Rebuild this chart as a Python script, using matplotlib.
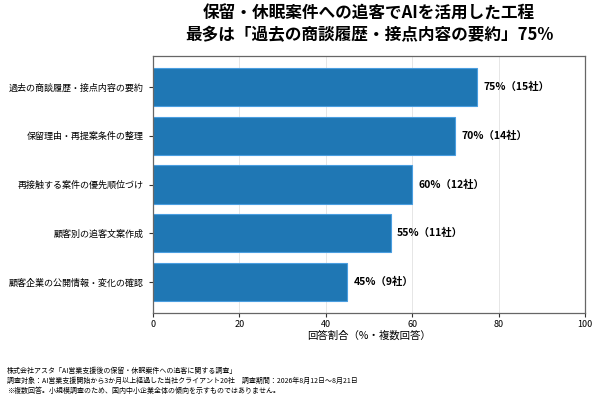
import matplotlib
matplotlib.use("Agg")
import matplotlib.pyplot as plt

plt.rcParams['font.family'] = ['Noto Sans CJK JP', 'DejaVu Sans']

categories = [
    "過去の商談履歴・接点内容の要約",
    "保留理由・再提案条件の整理",
    "再接触する案件の優先順位づけ",
    "顧客別の追客文案作成",
    "顧客企業の公開情報・変化の確認",
]
values = [75, 70, 60, 55, 45]
counts = [15, 14, 12, 11, 9]
xticks = [0, 20, 40, 60, 80, 100]

title = "保留・休眠案件への追客でAIを活用した工程\n最多は「過去の商談履歴・接点内容の要約」75%"
xlabel = "回答割合（%・複数回答）"
notes = ("株式会社アスタ「AI営業支援後の保留・休眠案件への追客に関する調査」\n"
         "調査対象：AI営業支援開始から3か月以上経過した当社クライアント20社　調査期間：2026年8月12日〜8月21日\n"
         "※複数回答。小規模調査のため、国内中小企業全体の傾向を示すものではありません。")

fig = plt.figure(figsize=(6, 4), dpi=100)
ax = fig.add_axes([153/600, 1-313/400, (585-153)/600, (313-56)/400])

ypos = list(range(len(categories)))
ax.barh(ypos, values, height=0.78, color='#1f77b4', edgecolor='#4a9ee0', linewidth=0.8, zorder=2)
ax.invert_yaxis()
ax.set_yticks(ypos)
ax.set_yticklabels(categories, fontsize=6.5)
ax.set_xlim(0, 100)
ax.set_xticks(xticks)
ax.tick_params(axis='x', labelsize=6.5, colors='#333333', length=3, pad=2)
ax.tick_params(axis='y', colors='#333333', length=3)
for lab in ax.get_xticklabels() + ax.get_yticklabels():
    lab.set_color('black')
ax.xaxis.grid(True, color='#e6e6e6', linewidth=0.7, zorder=0)
ax.set_axisbelow(True)
for s in ax.spines.values():
    s.set_color('#666666')
    s.set_linewidth(0.9)
ax.set_xlabel(xlabel, fontsize=7.5, labelpad=1)

for y, v, c in zip(ypos, values, counts):
    ax.text(v + 1.5, y, f"{v}%（{c}社）", va='center', ha='left', fontsize=7.5, fontweight='bold')

fig.text(369/600, 1-24/400, title, ha='center', va='center', fontsize=12, fontweight='bold', linespacing=1.25)
fig.text(7/600, 1-381/400, notes, ha='left', va='center', fontsize=5.0, linespacing=1.3)

fig.savefig("out.png", dpi=100)
